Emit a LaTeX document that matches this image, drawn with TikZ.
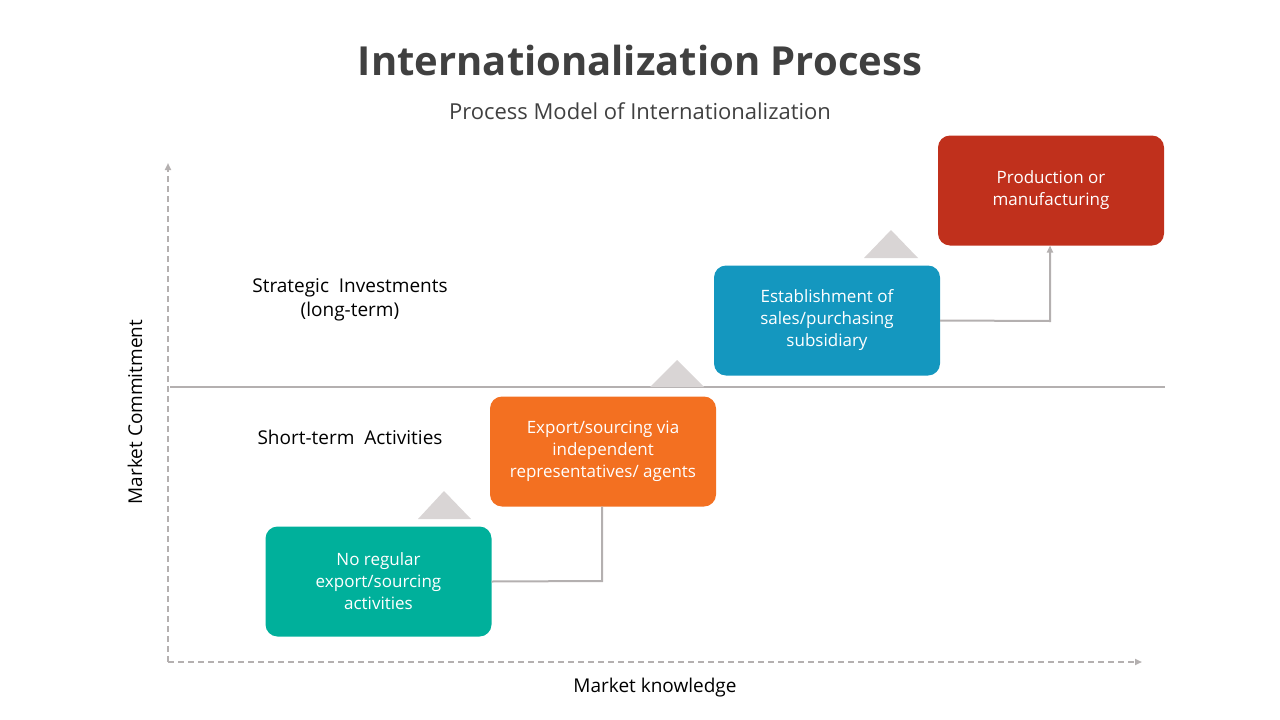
\documentclass[tikz,border=0pt]{standalone}
\usepackage{fontspec}
\setmainfont{Open Sans}
\usetikzlibrary{arrows.meta}
\definecolor{tgray}{HTML}{404040}
\definecolor{lgray}{HTML}{B4B0B0}
\definecolor{trig}{HTML}{D9D5D5}
\definecolor{cgreen}{HTML}{00B09B}
\definecolor{corange}{HTML}{F37021}
\definecolor{cblue}{HTML}{1497BF}
\definecolor{cred}{HTML}{C0301C}
\tikzset{
 stepbox/.style={rounded corners=12pt,minimum width=226pt,minimum height=110pt,inner sep=0pt,text=white,align=center,font=\fontsize{17}{22}\selectfont},
 conn/.style={draw=lgray,line width=2pt},
 lbl/.style={font=\fontsize{19}{24}\selectfont,text=black,align=center},
}
\begin{document}
\begin{tikzpicture}[x=1pt,y=-1pt]
\useasboundingbox (0,0) rectangle (1280,720);
\node[font=\fontsize{40}{48}\selectfont\bfseries,text=tgray] (title) at (640,60) {Internationalization Process};
\node[font=\fontsize{22}{26}\selectfont,text=tgray] (sub) at (640,111) {Process Model of Internationalization};
\coordinate (o) at (168,662);
\coordinate (yt) at (168,163);
\coordinate (xr) at (1142,662);
\draw[lgray,line width=2pt,dashed,dash pattern=on 6pt off 4pt,-{Triangle[length=7pt,width=6pt]}] (o) -- (yt);
\draw[lgray,line width=2pt,dashed,dash pattern=on 6pt off 4pt,-{Triangle[length=7pt,width=6pt]}] (o) -- (xr);
\coordinate (hl) at (170,387); \coordinate (hr) at (1165,387);
\draw[lgray,line width=2.5pt] (hl) -- (hr);
\node[lbl,rotate=90] (mc) at (135,412) {Market Commitment};
\node[lbl] (mk) at (655,688) {Market knowledge};
\node[lbl] (si) at (350,300) {Strategic\ \ Investments\\(long-term)};
\node[lbl] (st) at (350,437) {Short-term\ \ Activities};
\fill[trig] (444,491) -- (471,519) -- (418,519) -- cycle;
\fill[trig] (677,360) -- (704,387) -- (650,387) -- cycle;
\fill[trig] (891,230) -- (918,258) -- (864,258) -- cycle;
\node[stepbox,fill=cgreen] (g) at (378.5,581.5) {No regular\\export/sourcing\\activities};
\node[stepbox,fill=corange] (or) at (603,451.5) {Export/sourcing via\\independent\\representatives/ agents};
\node[stepbox,fill=cblue] (b) at (827,320.5) {Establishment of\\sales/purchasing\\subsidiary};
\node[stepbox,fill=cred] (r) at (1051,190.5) {Production or\\manufacturing};
\draw[conn] (g.east) -- (602,581) -- (602,506.5);
\draw[conn,-{Triangle[length=7pt,width=6pt]}] (b.east) -- (1050,321) -- (1050,245.5);
\end{tikzpicture}
\end{document}
